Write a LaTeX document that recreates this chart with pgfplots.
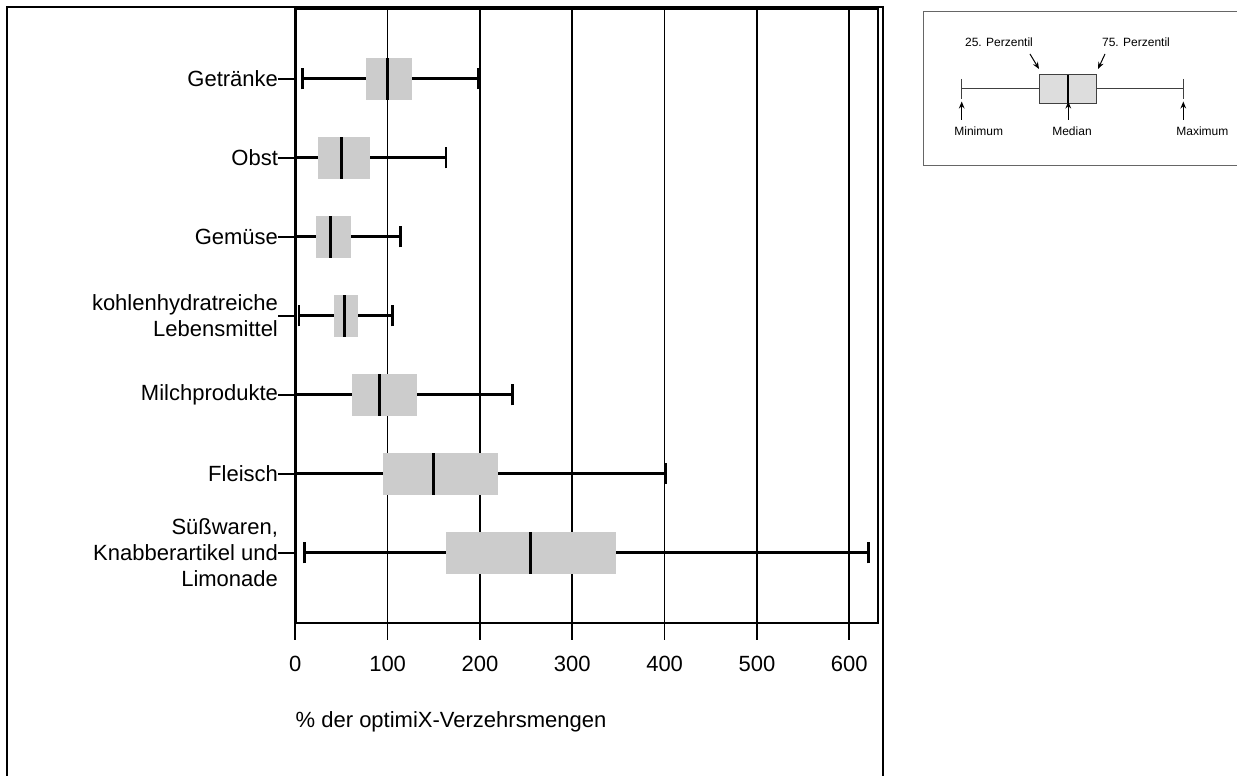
\documentclass[border=0pt]{standalone}
\usepackage{fontspec}
\setmainfont{Liberation Sans}
\usepackage{pgfplots}
\pgfplotsset{compat=1.18}
\usepgfplotslibrary{statistics}
\usetikzlibrary{arrows.meta}
\definecolor{boxgray}{RGB}{204,204,204}
\definecolor{keygray}{RGB}{221,221,221}
\newcommand{\lbl}{\fontsize{11}{13}\selectfont}
\newcommand{\keyfont}{\fontsize{6}{7}\selectfont}

\begin{document}
\begin{tikzpicture}
% page area
\clip (-147.65pt,-76.65pt) rectangle (470.85pt,311.35pt);
% outer frame of the chart panel
\draw[line width=1.15pt] (-144.3pt,-95pt) rectangle (294pt,308pt);

\begin{axis}[
  at={(0pt,0pt)}, anchor=south west,
  scale only axis, width=291.5pt, height=307pt,
  xmin=0, xmax=631.4, ymin=0.114, ymax=7.886,
  xtick={0,100,...,600}, ytick={1,...,7},
  yticklabels={{Süßwaren,\\Knabberartikel und\\Limonade},Fleisch,Milchprodukte,{kohlenhydratreiche\\Lebensmittel},Gemüse,Obst,Getränke},
  yticklabel style={align=right, inner xsep=0pt},
  xticklabel style={yshift=-4.5pt},
  xmajorgrids, major grid style={black, line width=0.85pt},
  tick align=outside, xtick pos=bottom, ytick pos=left,
  major tick length=8.5pt,
  tick style={black, line width=0.85pt},
  axis line style={line width=1.1pt},
  /pgf/number format/assume math mode=true,
  tick label style={font=\lbl},
  xlabel={\% der optimiX-Verzehrsmengen},
  xlabel style={at={(axis description cs:0,0)}, anchor=base west, yshift=-52.2pt, inner sep=0pt, font=\lbl},
  boxplot/draw direction=x,
  boxplot/box extend=0.53,
  boxplot/whisker extend=0.27,
  boxplot/every box/.style={fill=boxgray, draw=none},
  boxplot/every whisker/.style={black, line width=1.3pt},
  boxplot/every median/.style={black, line width=1.5pt},
]
% Getränke
\addplot[black, boxplot prepared={lower whisker=7.6, lower quartile=76.6, median=100, upper quartile=126.4, upper whisker=198, draw position=7}] coordinates {};
% Obst
\addplot[black, boxplot prepared={lower whisker=0, lower quartile=24.9, median=50.2, upper quartile=80.9, upper whisker=163.2, draw position=6}] coordinates {};
% Gemüse
\addplot[black, boxplot prepared={lower whisker=0, lower quartile=22.4, median=37.6, upper quartile=60.3, upper whisker=114.1, draw position=5}] coordinates {};
% kohlenhydratreiche Lebensmittel
\addplot[black, boxplot prepared={lower whisker=4, lower quartile=41.9, median=53.8, upper quartile=67.6, upper whisker=105, draw position=4}] coordinates {};
% Milchprodukte
\addplot[black, boxplot prepared={lower whisker=0, lower quartile=61.4, median=91.4, upper quartile=131.8, upper whisker=235, draw position=3}] coordinates {};
% Fleisch
\addplot[black, boxplot prepared={lower whisker=0, lower quartile=95, median=150, upper quartile=219.5, upper whisker=401, draw position=2}] coordinates {};
% Süßwaren, Knabberartikel und Limonade
\addplot[black, boxplot prepared={lower whisker=9.7, lower quartile=163.2, median=254.2, upper quartile=347.3, upper whisker=620.6, draw position=1}] coordinates {};
% left axis line drawn again over the whisker ends that sit at 0
\draw[black, line width=1.35pt] (axis cs:0,0.114) -- (axis cs:0,7.886);
\end{axis}

% key explaining the box plot
\begin{axis}[
  at={(302.35pt,223.35pt)}, anchor=south west,
  scale only axis, width=168.5pt, height=88pt,
  xmin=900, xmax=1237, ymin=0, ymax=176, y dir=reverse,
  hide axis, clip=false,
  boxplot/draw direction=x,
  boxplot/box extend=28.4,
  boxplot/whisker extend=20,
  boxplot/every box/.style={fill=keygray, draw=black!75, line width=0.5pt},
  boxplot/every whisker/.style={black!75, line width=0.5pt},
  boxplot/every median/.style={black, line width=1.1pt},
]
\draw[black!60, line width=0.6pt] (axis cs:923.3,11.7) rectangle (axis cs:1250,165.7);
\addplot[black, boxplot prepared={lower whisker=961.7, lower quartile=1039, median=1068.3, upper quartile=1096.7, upper whisker=1183.3, draw position=89}] coordinates {};
\node[font=\keyfont, anchor=base] at (axis cs:999,46.5) {25. Perzentil};
\node[font=\keyfont, anchor=base] at (axis cs:1136,46.5) {75. Perzentil};
\node[font=\keyfont, anchor=base west, inner xsep=0pt] at (axis cs:954,136) {Minimum};
\node[font=\keyfont, anchor=base] at (axis cs:1072,136) {Median};
\node[font=\keyfont, anchor=base west, inner xsep=0pt] at (axis cs:1176,136) {Maximum};
\begin{scope}[-{Stealth[length=3.5pt,width=2.8pt]}, black, line width=0.5pt]
\draw (axis cs:961.7,120) -- (axis cs:961.7,101.5);
\draw (axis cs:1068.3,120) -- (axis cs:1068.3,101.5);
\draw (axis cs:1183.3,120) -- (axis cs:1183.3,101.5);
\draw (axis cs:1030,54) -- (axis cs:1039,69);
\draw (axis cs:1105,54) -- (axis cs:1098,69);
\end{scope}
\end{axis}
\end{tikzpicture}
\end{document}
